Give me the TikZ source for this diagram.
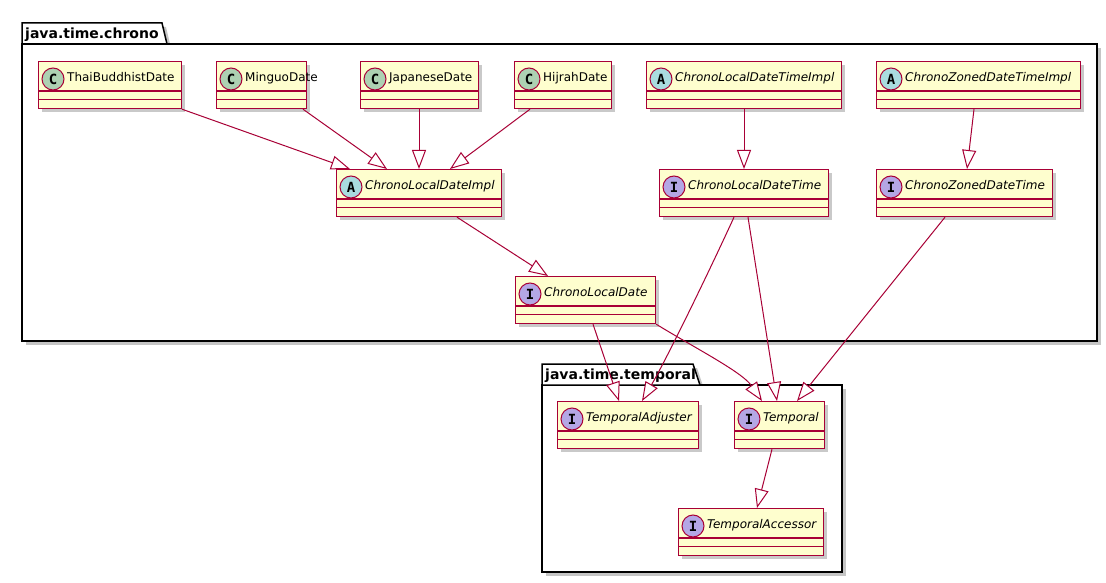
\documentclass[tikz,border=0pt]{standalone}
\usepackage{fontspec}
\setmainfont{DejaVu Sans}
\setmonofont{DejaVu Sans Mono}
\usetikzlibrary{arrows.meta,shadows,calc}
\definecolor{umlred}{HTML}{A80036}
\definecolor{umlfill}{HTML}{FEFECE}
\definecolor{cC}{HTML}{ADD1B2}
\definecolor{cA}{HTML}{A9DCDF}
\definecolor{cI}{HTML}{B4A7E5}
\tikzset{
  classbox/.style={draw=umlred, fill=umlfill, line width=1.2pt, inner sep=0pt, minimum height=47pt,
    drop shadow={shadow xshift=3.5pt, shadow yshift=-3.5pt, opacity=0.35, fill=black!60}},
  divider/.style={draw=umlred, line width=1.2pt},
  spot/.style={draw=umlred, line width=1pt},
  spotletter/.style={font=\ttfamily\bfseries\fontsize{14}{14}\selectfont, inner sep=0pt},
  clsname/.style={anchor=base west, inner sep=0pt, font=\fontsize{12}{14}\selectfont},
  pkg/.style={draw=black, fill=white, line width=1.5pt, line join=miter},
  pkgshadow/.style={fill=black!45, opacity=0.5},
  pkgname/.style={anchor=base west, inner sep=0pt, font=\bfseries\fontsize{14}{16}\selectfont},
  ext/.style={draw=umlred, line width=1pt, -{Triangle[length=19pt,width=14pt,fill=white]}},
}
% id, left, top, right, letter, colour, label
\newcommand\umlclass[7]{%
  \node[classbox, minimum width={#4-#2}, anchor=north west] (#1) at (#2,#3) {};
  \draw[divider] (#2,#3+30) -- (#4,#3+30);
  \draw[divider] (#2,#3+38.5) -- (#4,#3+38.5);
  \draw[spot, fill=#6] (#2+15,#3+18) circle[radius=11pt];
  \node[spotletter] (#1-spot) at (#2+15,#3+18) {#5};
  \node[clsname] (#1-name) at (#2+29,#3+20.5) {#7};
}
\begin{document}
\begin{tikzpicture}[x=1pt,y=-1pt]
\useasboundingbox (0,0) rectangle (1106,583);
% package java.time.chrono
\fill[pkgshadow] (26,48) rectangle (1101,345);
\fill[pkgshadow] (26,27) -- (166,27) -- (171,48) -- (26,48) -- cycle;
\filldraw[pkg] (22,44) rectangle (1097,341);
\filldraw[pkg] (22,44) -- (22,23) -- (162,23) -- (167,44) -- cycle;
\node[pkgname] (chronolbl) at (25,39) {java.time.chrono};
% package java.time.temporal
\fill[pkgshadow] (546,389) rectangle (846,576);
\fill[pkgshadow] (546,368) -- (697,368) -- (704,389) -- (546,389) -- cycle;
\filldraw[pkg] (542,385) rectangle (842,572);
\filldraw[pkg] (542,385) -- (542,364) -- (693,364) -- (700,385) -- cycle;
\node[pkgname] (temporallbl) at (545,379) {java.time.temporal};

% classes
\umlclass{thai}{38}{61}{181}{C}{cC}{ThaiBuddhistDate}
\umlclass{minguo}{216}{61}{306}{C}{cC}{MinguoDate}
\umlclass{japanese}{360}{61}{478}{C}{cC}{JapaneseDate}
\umlclass{hijrah}{514}{61}{611}{C}{cC}{HijrahDate}
\umlclass{ldtimpl}{646}{61}{841}{A}{cA}{\itshape ChronoLocalDateTimeImpl}
\umlclass{zdtimpl}{876}{61}{1080}{A}{cA}{\itshape ChronoZonedDateTimeImpl}
\umlclass{ldimpl}{336}{169}{501}{A}{cA}{\itshape ChronoLocalDateImpl}
\umlclass{ldt}{659}{169}{828}{I}{cI}{\itshape ChronoLocalDateTime}
\umlclass{zdt}{876}{169}{1052}{I}{cI}{\itshape ChronoZonedDateTime}
\umlclass{cld}{515}{276}{655}{I}{cI}{\itshape ChronoLocalDate}
\umlclass{adjuster}{557}{401}{698}{I}{cI}{\itshape TemporalAdjuster}
\umlclass{temporal}{734}{401}{824}{I}{cI}{\itshape Temporal}
\umlclass{accessor}{678}{508}{823}{I}{cI}{\itshape TemporalAccessor}

% generalizations
\draw[ext] ([xshift=144pt]thai.south west) -- ([xshift=14pt]ldimpl.north west);
\draw[ext] ([xshift=87pt]minguo.south west) -- ([xshift=51pt]ldimpl.north west);
\draw[ext] ([xshift=59pt]japanese.south west) -- ([xshift=83pt]ldimpl.north west);
\draw[ext] ([xshift=16pt]hijrah.south west) -- ([xshift=114pt]ldimpl.north west);
\draw[ext] ([xshift=98pt]ldtimpl.south west) -- ([xshift=85pt]ldt.north west);
\draw[ext] ([xshift=98pt]zdtimpl.south west) -- ([xshift=91pt]zdt.north west);
\draw[ext] ([xshift=121pt]ldimpl.south west) -- ([xshift=33pt]cld.north west);
\draw[ext] ([xshift=75pt]ldt.south west) .. controls (707,276) and (666,360) .. ([xshift=85pt]adjuster.north west);
\draw[ext] ([xshift=89pt]ldt.south west) -- ([xshift=43pt]temporal.north west);
\draw[ext] ([xshift=69pt]zdt.south west) -- ([xshift=63pt]temporal.north west);
\draw[ext] ([xshift=78pt]cld.south west) -- ([xshift=62pt]adjuster.north west);
\draw[ext] (cld.south east) .. controls (695,348) and (742,372) .. ([xshift=28pt]temporal.north west);
\draw[ext] ([xshift=38pt]temporal.south west) -- ([xshift=79pt]accessor.north west);
\end{tikzpicture}
\end{document}
